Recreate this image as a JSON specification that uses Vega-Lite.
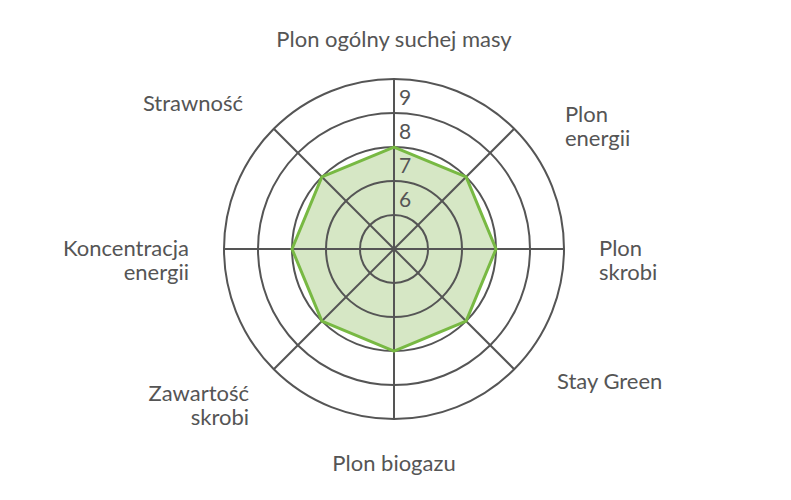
{
  "$schema": "https://vega.github.io/schema/vega-lite/v6.json",
  "width": 791,
  "height": 500,
  "padding": 0,
  "autosize": {"type": "none"},
  "background": "white",
  "config": {"view": {"stroke": null}, "font": "Lato"},
  "datasets": {
    "scores": [
      {"axis": "Plon ogólny suchej masy", "angle": 0, "value": 7},
      {"axis": "Plon\nenergii", "angle": 45, "value": 7},
      {"axis": "Plon\nskrobi", "angle": 90, "value": 7},
      {"axis": "Stay Green", "angle": 135, "value": 7},
      {"axis": "Plon biogazu", "angle": 180, "value": 7},
      {"axis": "Zawartość\nskrobi", "angle": 225, "value": 7},
      {"axis": "Koncentracja\nenergii", "angle": 270, "value": 7},
      {"axis": "Strawność", "angle": 315, "value": 7}
    ],
    "rings": [
      {"ring": 5},
      {"ring": 6},
      {"ring": 7},
      {"ring": 8},
      {"ring": 9}
    ]
  },
  "layer": [
    {
      "data": {"name": "scores"},
      "transform": [
        {"calculate": "datum.value - 4", "as": "r"},
        {"calculate": "datum.r * sin(datum.angle * PI / 180)", "as": "px"},
        {"calculate": "datum.r * cos(datum.angle * PI / 180)", "as": "py"}
      ],
      "mark": {"type": "line", "interpolate": "linear-closed", "fill": "#d6e7c5", "strokeWidth": 0},
      "encoding": {
        "x": {"field": "px", "type": "quantitative", "axis": null, "scale": {"domain": [-11.588, 11.676], "nice": false, "zero": false}},
        "y": {"field": "py", "type": "quantitative", "axis": null, "scale": {"domain": [-7.382, 7.324], "nice": false, "zero": false}},
        "order": {"field": "angle", "type": "quantitative"}
      }
    },
    {
      "data": {"name": "rings"},
      "transform": [
        {"calculate": "datum.ring - 4", "as": "r"},
        {"calculate": "0", "as": "cx"}
      ],
      "mark": {"type": "point", "shape": "circle", "filled": false, "stroke": "#555555", "strokeWidth": 2, "opacity": 1},
      "encoding": {
        "x": {"field": "cx", "type": "quantitative", "axis": null, "scale": {"domain": [-11.588, 11.676], "nice": false, "zero": false}},
        "y": {"field": "cx", "type": "quantitative", "axis": null, "scale": {"domain": [-7.382, 7.324], "nice": false, "zero": false}},
        "size": {"field": "r", "type": "quantitative", "legend": null, "scale": {"type": "pow", "exponent": 2, "domain": [0, 5], "range": [0, 115600]}}
      }
    },
    {
      "data": {"name": "scores"},
      "transform": [
        {"calculate": "0", "as": "cx"},
        {"calculate": "5 * sin(datum.angle * PI / 180)", "as": "ox"},
        {"calculate": "5 * cos(datum.angle * PI / 180)", "as": "oy"}
      ],
      "mark": {"type": "rule", "stroke": "#555555", "strokeWidth": 2},
      "encoding": {
        "x": {"field": "cx", "type": "quantitative", "axis": null, "scale": {"domain": [-11.588, 11.676], "nice": false, "zero": false}},
        "y": {"field": "cx", "type": "quantitative", "axis": null, "scale": {"domain": [-7.382, 7.324], "nice": false, "zero": false}},
        "x2": {"field": "ox"},
        "y2": {"field": "oy"}
      }
    },
    {
      "data": {"name": "scores"},
      "transform": [
        {"calculate": "datum.value - 4", "as": "r"},
        {"calculate": "datum.r * sin(datum.angle * PI / 180)", "as": "px"},
        {"calculate": "datum.r * cos(datum.angle * PI / 180)", "as": "py"}
      ],
      "mark": {"type": "line", "interpolate": "linear-closed", "stroke": "#78b943", "strokeWidth": 3, "strokeJoin": "miter"},
      "encoding": {
        "x": {"field": "px", "type": "quantitative", "axis": null, "scale": {"domain": [-11.588, 11.676], "nice": false, "zero": false}},
        "y": {"field": "py", "type": "quantitative", "axis": null, "scale": {"domain": [-7.382, 7.324], "nice": false, "zero": false}},
        "order": {"field": "angle", "type": "quantitative"}
      }
    },
    {
      "data": {"name": "rings"},
      "transform": [
        {"filter": "datum.ring >= 6"},
        {"calculate": "datum.ring - 4", "as": "r"},
        {"calculate": "0", "as": "cx"}
      ],
      "mark": {"type": "text", "align": "left", "baseline": "alphabetic", "dx": 5, "dy": 26, "fontSize": 21, "color": "#555555"},
      "encoding": {
        "x": {"field": "cx", "type": "quantitative", "axis": null, "scale": {"domain": [-11.588, 11.676], "nice": false, "zero": false}},
        "y": {"field": "r", "type": "quantitative", "axis": null, "scale": {"domain": [-7.382, 7.324], "nice": false, "zero": false}},
        "text": {"field": "ring", "type": "nominal"}
      }
    },
    {
      "data": {"name": "scores"},
      "transform": [
        {"calculate": "6.03 * sin(datum.angle * PI / 180)", "as": "lx"},
        {"calculate": "6.03 * cos(datum.angle * PI / 180)", "as": "ly"}
      ],
      "mark": {
        "type": "text",
        "fontSize": 22,
        "color": "#555555",
        "lineBreak": "\n",
        "lineHeight": 24,
        "baseline": "middle",
        "align": {"expr": "datum.angle > 0 && datum.angle < 180 ? 'left' : datum.angle > 180 ? 'right' : 'center'"},
        "dx": {"expr": "datum.angle == 45 ? 26 : datum.angle == 135 ? 18 : datum.angle == 315 ? -6 : 0"},
        "dy": {"expr": "datum.angle == 45 ? 11 : datum.angle == 135 ? -12 : datum.angle == 0 ? -4 : datum.angle == 180 ? 10 : 0"}
      },
      "encoding": {
        "x": {"field": "lx", "type": "quantitative", "axis": null, "scale": {"domain": [-11.588, 11.676], "nice": false, "zero": false}},
        "y": {"field": "ly", "type": "quantitative", "axis": null, "scale": {"domain": [-7.382, 7.324], "nice": false, "zero": false}},
        "text": {"field": "axis", "type": "nominal"}
      }
    }
  ]
}
